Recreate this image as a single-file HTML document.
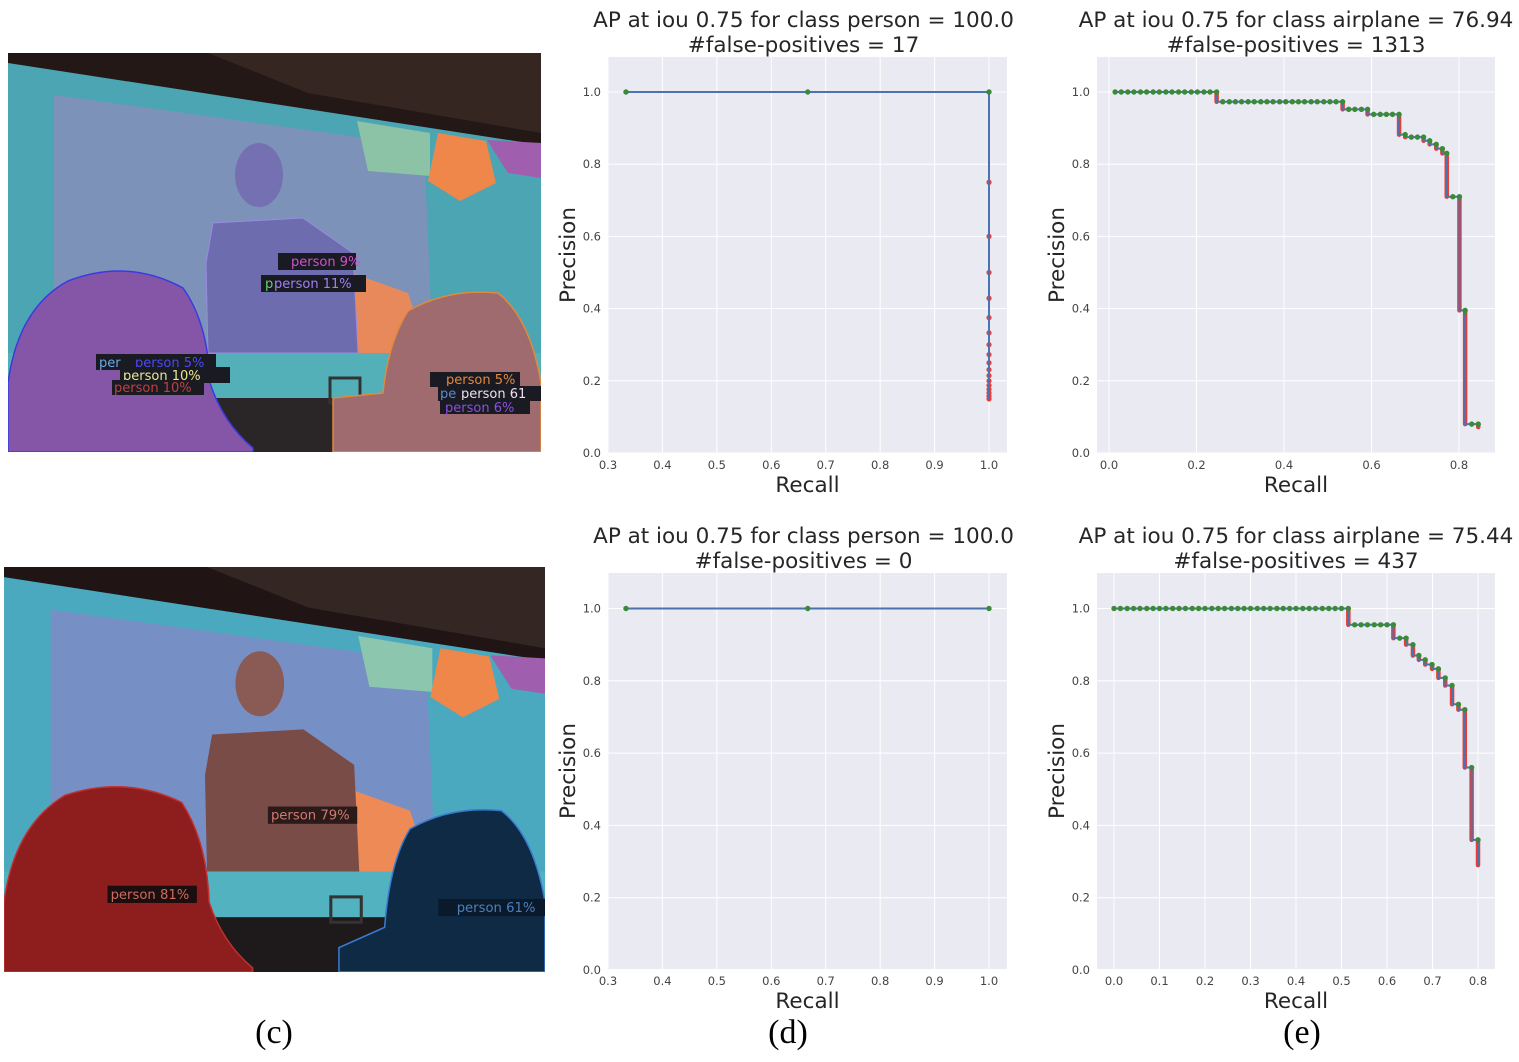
<!DOCTYPE html>
<html><head><meta charset="utf-8">
<style>
html,body{margin:0;padding:0;background:#fff;}
svg{display:block;}
text{font-family:"DejaVu Sans","Liberation Sans",sans-serif;}
</style></head>
<body>
<svg id="fig" width="1519" height="1062" viewBox="0 0 1519 1062" xmlns="http://www.w3.org/2000/svg">
  <defs>
    <clipPath id="clipTop"><rect x="0" y="0" width="533" height="399"/></clipPath>
    <clipPath id="clipBot"><rect x="0" y="0" width="533" height="399"/></clipPath>
  </defs>

  <!-- Top photo -->
  <g transform="translate(8,53)" clip-path="url(#clipTop)">
    <rect width="533" height="399" fill="#4ba5b2"/>
    <polygon points="0,0 533,0 533,92 0,10" fill="#231816"/>
    <polygon points="200,0 533,0 533,80 300,40" fill="#3a2a26" opacity="0.8"/>
    <polygon points="46,42 416,93 425,300 46,300" fill="#7d92b8"/>
    <polygon points="349,68 422,80 422,123 360,118" fill="#8cc2a6"/>
    <polygon points="430,80 478,88 488,130 452,148 420,128" fill="#ef874a"/>
    <polygon points="479,87 533,90 533,125 500,120" fill="#a05fae"/>
    <polygon points="330,215 400,240 420,300 320,300" fill="#e7895a"/>
    <ellipse cx="251" cy="122" rx="24" ry="32" fill="#7470b2"/>
    <polygon points="205,170 295,165 345,200 350,300 200,300 198,210" fill="#6c6cae" stroke="#9a8ae0" stroke-width="1"/>
    <rect x="0" y="300" width="533" height="45" fill="#54b0b8"/>
    <rect x="0" y="345" width="533" height="54" fill="#2a2527"/>
    <rect x="322" y="325" width="30" height="25" fill="none" stroke="#333" stroke-width="3"/>
    <path d="M0,399 L0,330 Q10,255 60,228 Q120,205 175,235 Q200,270 202,330 Q215,370 245,395 L245,399 Z" fill="#8556a8" stroke="#3a3ae0" stroke-width="1.5"/>
    <path d="M325,399 L325,345 L375,340 Q380,290 400,258 Q440,235 490,240 Q522,265 533,330 L533,399 Z" fill="#9f6b6e" stroke="#e08a3a" stroke-width="1.5"/>
    <g font-size="13">
      <rect x="270" y="200" width="78" height="17" fill="#1a1a22"/><text x="283" y="213" fill="#d050d0">person 9%</text>
      <rect x="253" y="222" width="105" height="17" fill="#1a1a22"/><text x="257" y="235" fill="#60d070">p</text><text x="266" y="235" fill="#a080f0">person 11%</text>
      <rect x="88" y="301" width="120" height="16" fill="#1a1a22"/><text x="91" y="314" fill="#6aa8e8">per</text><text x="127" y="314" fill="#4a4af0">person 5%</text>
      <rect x="112" y="314" width="110" height="16" fill="#1a1a22"/><text x="115" y="327" fill="#e8e890">person 10%</text>
      <rect x="104" y="327" width="92" height="15" fill="#1a1a22"/><text x="106" y="339" fill="#c04040">person 10%</text>
      <rect x="422" y="319" width="90" height="15" fill="#1a1a22"/><text x="438" y="331" fill="#e08a40">person 5%</text>
      <rect x="430" y="333" width="103" height="15" fill="#1a1a22"/><text x="432" y="345" fill="#5a8ad0">pe</text><text x="453" y="345" fill="#f0e0f0">person 61</text>
      <rect x="432" y="347" width="90" height="14" fill="#1a1a22"/><text x="437" y="359" fill="#8a50e0">person 6%</text>
    </g>
  </g>

  <!-- Bottom photo -->
  <g transform="translate(4,567) scale(1.015,1.015)" clip-path="url(#clipBot)">
    <rect width="533" height="399" fill="#4aa9bf"/>
    <polygon points="0,0 533,0 533,92 0,10" fill="#201514"/>
    <polygon points="200,0 533,0 533,80 300,40" fill="#3a2a26" opacity="0.8"/>
    <polygon points="46,42 416,93 425,300 46,300" fill="#7690c6"/>
    <polygon points="349,68 422,80 422,123 360,118" fill="#8cc6ae"/>
    <polygon points="430,80 478,88 488,130 452,148 420,128" fill="#ef874a"/>
    <polygon points="479,87 533,90 533,125 500,120" fill="#a05fae"/>
    <polygon points="330,215 400,240 420,300 320,300" fill="#ee8a55"/>
    <ellipse cx="252" cy="115" rx="24" ry="32" fill="#8a5a55"/>
    <polygon points="205,165 295,160 345,195 350,300 200,300 198,205" fill="#7a4c48"/>
    <rect x="0" y="300" width="533" height="45" fill="#52b2c0"/>
    <rect x="0" y="345" width="533" height="54" fill="#1e1a1c"/>
    <rect x="322" y="325" width="30" height="25" fill="none" stroke="#333" stroke-width="3"/>
    <path d="M0,399 L0,330 Q10,255 60,225 Q120,205 175,232 Q200,270 202,330 Q215,370 245,395 L245,399 Z" fill="#8e1d1e" stroke="#c03030" stroke-width="1.5"/>
    <path d="M330,399 L330,375 L375,355 Q380,290 400,258 Q440,235 490,240 Q522,265 533,330 L533,399 Z" fill="#0e2a44" stroke="#3a7ad0" stroke-width="1.5"/>
    <g font-size="13">
      <rect x="260" y="236" width="88" height="17" fill="#2a1a1a"/><text x="263" y="249" fill="#d07a70">person 79%</text>
      <rect x="102" y="314" width="88" height="17" fill="#1a0e0e"/><text x="105" y="327" fill="#d06a60">person 81%</text>
      <rect x="428" y="327" width="105" height="17" fill="#0a1a2a"/><text x="446" y="340" fill="#4a80c0">person 61%</text>
    </g>
  </g>

  <g id="charts"></g>

  <text x="274" y="1043" font-size="34" text-anchor="middle" style="font-family:'Liberation Serif',serif">(c)</text>
  <text x="788" y="1043" font-size="34" text-anchor="middle" style="font-family:'Liberation Serif',serif">(d)</text>
  <text x="1302" y="1043" font-size="34" text-anchor="middle" style="font-family:'Liberation Serif',serif">(e)</text>
</svg>

<script>
// ---- Data ----
// Chart 1: person, 17 false positives
const c1Recall = [0.333, 0.667, 1.0];
const c1Precision = [1.0, 1.0, 1.0];
const c1FpRecall = [1,1,1,1,1,1,1,1,1,1,1,1,1,1,1,1,1];
const c1FpPrecision = [0.75,0.6,0.5,0.4286,0.375,0.333,0.3,0.2727,0.25,0.2308,0.2143,0.2,0.1875,0.1765,0.1667,0.1579,0.15];
const c1XTicks = ["0.3","0.4","0.5","0.6","0.7","0.8","0.9","1.0"];
const c1YTicks = ["0.0","0.2","0.4","0.6","0.8","1.0"];

// Chart 2: airplane, 1313 false positives
const c2Recall = [0.014,0.028,0.043,0.057,0.072,0.086,0.101,0.115,0.130,0.144,0.159,0.173,0.188,0.202,0.217,0.231,0.246,
  0.260,0.275,0.289,0.303,0.318,0.332,0.347,0.361,0.375,0.390,0.404,0.419,0.433,0.447,0.462,0.476,0.491,0.505,0.519,0.534,
  0.548,0.562,0.577,0.591,0.605,0.620,0.634,0.648,0.663,0.677,0.691,0.705,0.719,0.733,0.748,0.762,0.772,0.786,0.801,0.814,0.829,0.844];
const c2Precision = [1,1,1,1,1,1,1,1,1,1,1,1,1,1,1,1,1,
  0.973,0.973,0.973,0.973,0.973,0.973,0.973,0.973,0.973,0.973,0.973,0.973,0.973,0.973,0.973,0.973,0.973,0.973,0.973,0.973,
  0.952,0.952,0.952,0.952,0.938,0.938,0.938,0.938,0.938,0.882,0.875,0.875,0.875,0.865,0.855,0.843,0.83,0.71,0.71,0.395,0.08,0.08];
const c2EndPrecision = 0.072;
const c2XTicks = ["0.0","0.2","0.4","0.6","0.8"];
const c2YTicks = ["0.0","0.2","0.4","0.6","0.8","1.0"];

// Chart 3: person, 0 false positives
const c3Recall = [0.333, 0.667, 1.0];
const c3Precision = [1.0, 1.0, 1.0];
const c3XTicks = ["0.3","0.4","0.5","0.6","0.7","0.8","0.9","1.0"];
const c3YTicks = ["0.0","0.2","0.4","0.6","0.8","1.0"];

// Chart 4: airplane, 437 false positives
const c4Recall = [0,0.014,0.029,0.043,0.057,0.072,0.086,0.100,0.114,0.129,0.143,0.157,0.172,0.186,0.200,0.215,0.229,0.243,0.258,0.272,0.286,0.300,0.315,0.329,0.343,0.358,0.372,0.386,0.400,0.415,0.429,0.443,0.458,0.472,0.486,0.500,0.515,
  0.529,0.543,0.557,0.572,0.586,0.600,0.614,0.628,0.642,0.657,0.670,0.684,0.699,0.713,0.728,0.743,0.757,0.771,0.786,0.800];
const c4Precision = [1,1,1,1,1,1,1,1,1,1,1,1,1,1,1,1,1,1,1,1,1,1,1,1,1,1,1,1,1,1,1,1,1,1,1,1,1,
  0.955,0.955,0.955,0.955,0.955,0.955,0.955,0.918,0.918,0.90,0.87,0.858,0.845,0.833,0.808,0.787,0.735,0.72,0.56,0.36];
const c4EndPrecision = 0.29;
const c4XTicks = ["0.0","0.1","0.2","0.3","0.4","0.5","0.6","0.7","0.8"];
const c4YTicks = ["0.0","0.2","0.4","0.6","0.8","1.0"];

const NS = "http://www.w3.org/2000/svg";
function mk(tag, attrs, parent){
  const e = document.createElementNS(NS, tag);
  for (const k in attrs) e.setAttribute(k, attrs[k]);
  parent.appendChild(e);
  return e;
}
const BLUE="#4c72b0", GREEN="#3a8a3a", RED="#ee3b33";
const TFS = 21.5;

function drawChart(cfg){
  const root = document.getElementById('charts');
  const g = mk('g', {}, root);
  
  
  const L=cfg.left, R=cfg.right, T=cfg.top, B=cfg.bottom;
  const sx = v => cfg.x0px + (v - cfg.x0) * (cfg.x1px - cfg.x0px) / (cfg.x1 - cfg.x0);
  const sy = v => cfg.y0px + (v) * (cfg.y1px - cfg.y0px);
  const bg = mk('rect', {x:L, y:T, width:R-L, height:B-T, fill:'#eaeaf2'}, g);
  
  
  cfg.xTicks.forEach(t => {
    const x = sx(parseFloat(t));
    mk('line', {x1:x, x2:x, y1:T, y2:B, stroke:'#fff', 'stroke-width':1}, g);
    const tx = mk('text', {x:x, y:B+16, 'font-size':11.5, fill:'#444', 'text-anchor':'middle'}, g);
    tx.textContent = t;
    
    
  });
  cfg.yTicks.forEach(t => {
    const y = sy(parseFloat(t));
    mk('line', {x1:L, x2:R, y1:y, y2:y, stroke:'#fff', 'stroke-width':1}, g);
    const ty = mk('text', {x:L-7, y:y+4, 'font-size':11.5, fill:'#444', 'text-anchor':'end'}, g);
    ty.textContent = t;
    
    
  });
  const cx = (L+R)/2 + (cfg.titleShift || 0);
  const t1 = mk('text', {x:cx, y:T-30, 'font-size':TFS, fill:'#262626', 'text-anchor':'middle'}, g);
  t1.textContent = cfg.title1;
  
  
  const t2 = mk('text', {x:cx, y:T-5, 'font-size':TFS, fill:'#262626', 'text-anchor':'middle'}, g);
  t2.textContent = cfg.title2;
  
  
  const xl = mk('text', {x:(L+R)/2, y:B+39, 'font-size':TFS, fill:'#262626', 'text-anchor':'middle'}, g);
  xl.textContent = 'Recall';
  
  
  const yc = (T+B)/2;
  const yl = mk('text', {x:L-33, y:yc, 'font-size':TFS, fill:'#262626', 'text-anchor':'middle', transform:`rotate(-90 ${L-33} ${yc})`}, g);
  yl.textContent = 'Precision';
  
  

  const rec = cfg.recall, pre = cfg.precision;
  for (let i=1;i<rec.length;i++){
    if (pre[i] < pre[i-1]) {
      const d = mk('line', {x1:sx(rec[i-1]), x2:sx(rec[i-1]), y1:sy(pre[i-1]), y2:sy(pre[i]), stroke:RED, 'stroke-width':4.5, 'stroke-linecap':'round'}, g);
      
      
    }
  }
  if (cfg.endPrecision !== undefined) {
    const last = rec.length-1;
    const d = mk('line', {x1:sx(rec[last]), x2:sx(rec[last]), y1:sy(pre[last]), y2:sy(cfg.endPrecision), stroke:RED, 'stroke-width':4.5, 'stroke-linecap':'round'}, g);
    
    
  }
  if (cfg.fpRecall) {
    cfg.fpRecall.forEach((r,i) => {
      const c = mk('circle', {cx:sx(r), cy:sy(cfg.fpPrecision[i]), r:2.6, fill:RED}, g);
      
      
    });
  }
  let d = `M${sx(rec[0])},${sy(pre[0])}`;
  for (let i=1;i<rec.length;i++){
    d += ` L${sx(rec[i-1])},${sy(pre[i])} L${sx(rec[i])},${sy(pre[i])}`;
  }
  let lowEnd = cfg.endPrecision;
  if (cfg.fpPrecision) lowEnd = cfg.fpPrecision[cfg.fpPrecision.length-1];
  if (lowEnd !== undefined) d += ` L${sx(rec[rec.length-1])},${sy(lowEnd)}`;
  const p = mk('path', {d:d, fill:'none', stroke:BLUE, 'stroke-width':2}, g);
  
  
  rec.forEach((r,i) => {
    const c = mk('circle', {cx:sx(r), cy:sy(pre[i]), r:2.7, fill:GREEN}, g);
    
    
  });
}

drawChart({name:'chart-person-fp17', left:608, right:1007, top:57, bottom:453,
  x0:0.3, x1:1.0, x0px:608, x1px:989, y0px:453, y1px:92,
  xTicks:c1XTicks, yTicks:c1YTicks, recall:c1Recall, precision:c1Precision,
  fpRecall:c1FpRecall, fpPrecision:c1FpPrecision, titleShift:-4,
  title1:'AP at iou 0.75 for class person = 100.0', title2:'#false-positives = 17'});

drawChart({name:'chart-airplane-fp1313', left:1097, right:1495, top:57, bottom:453,
  x0:0, x1:0.8, x0px:1109, x1px:1459, y0px:453, y1px:92,
  xTicks:c2XTicks, yTicks:c2YTicks, recall:c2Recall, precision:c2Precision, endPrecision:c2EndPrecision,
  title1:'AP at iou 0.75 for class airplane = 76.94', title2:'#false-positives = 1313'});

drawChart({name:'chart-person-fp0', left:608, right:1007, top:573, bottom:969,
  x0:0.3, x1:1.0, x0px:608, x1px:989, y0px:970, y1px:608.5,
  xTicks:c3XTicks, yTicks:c3YTicks, recall:c3Recall, precision:c3Precision, titleShift:-4,
  title1:'AP at iou 0.75 for class person = 100.0', title2:'#false-positives = 0'});

drawChart({name:'chart-airplane-fp437', left:1097, right:1495, top:573, bottom:969,
  x0:0, x1:0.8, x0px:1114, x1px:1478, y0px:970, y1px:608.5,
  xTicks:c4XTicks, yTicks:c4YTicks, recall:c4Recall, precision:c4Precision, endPrecision:c4EndPrecision,
  title1:'AP at iou 0.75 for class airplane = 75.44', title2:'#false-positives = 437'});
</script>
</body></html>
